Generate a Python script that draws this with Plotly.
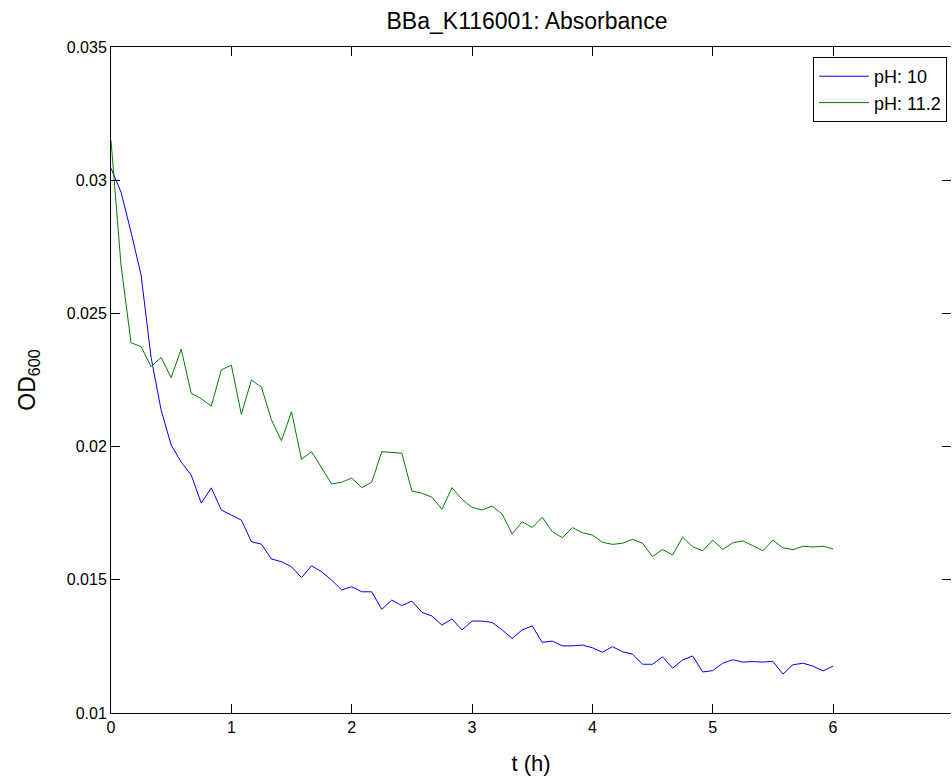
import plotly.graph_objects as go

# time points every 5 minutes from 0 to 6 h
t_hours = [i / 12 for i in range(73)]

od_ph10 = [
    0.03045, 0.02955, 0.02805, 0.02644, 0.02334, 0.02137, 0.02006, 0.01942, 0.01893, 0.01788,
    0.01845, 0.01762, 0.01743, 0.01724, 0.01643, 0.01634, 0.01578, 0.01568, 0.01549, 0.01508,
    0.01553, 0.01530, 0.01499, 0.01462, 0.01474, 0.01455, 0.01455, 0.01389, 0.01424, 0.01403,
    0.01420, 0.01378, 0.01364, 0.01330, 0.01353, 0.01312, 0.01345, 0.01345, 0.01340, 0.01312,
    0.01280, 0.01312, 0.01327, 0.01265, 0.01270, 0.01252, 0.01252, 0.01255, 0.01245, 0.01228,
    0.01249, 0.01230, 0.01221, 0.01183, 0.01183, 0.01211, 0.01168, 0.01199, 0.01214, 0.01154,
    0.01159, 0.01187, 0.01200, 0.01191, 0.01193, 0.01191, 0.01194, 0.01146, 0.01181, 0.01187,
    0.01176, 0.01158, 0.01176,
]

od_ph112 = [
    0.03150, 0.02680, 0.02390, 0.02375, 0.02300, 0.02335, 0.02259, 0.02366, 0.02200, 0.02180,
    0.02152, 0.02288, 0.02306, 0.02121, 0.02250, 0.02223, 0.02100, 0.02022, 0.02131, 0.01952,
    0.01981, 0.01922, 0.01860, 0.01866, 0.01882, 0.01846, 0.01866, 0.01981, 0.01979, 0.01975,
    0.01833, 0.01825, 0.01810, 0.01765, 0.01846, 0.01802, 0.01772, 0.01762, 0.01777, 0.01747,
    0.01672, 0.01718, 0.01696, 0.01735, 0.01681, 0.01658, 0.01696, 0.01677, 0.01668, 0.01641,
    0.01633, 0.01637, 0.01652, 0.01637, 0.01587, 0.01614, 0.01593, 0.01660, 0.01624, 0.01609,
    0.01649, 0.01614, 0.01639, 0.01646, 0.01628, 0.01609, 0.01649, 0.01620, 0.01613, 0.01626,
    0.01623, 0.01626, 0.01616,
]

series_names = ["pH: 10", "pH: 11.2"]
x_tick_vals = [0, 1, 2, 3, 4, 5, 6, 7]
y_tick_vals = [0.01, 0.015, 0.02, 0.025, 0.03, 0.035]
y_tick_text = ["0.01", "0.015", "0.02", "0.025", "0.03", "0.035"]
x_range = [0, 6.98]
y_range = [0.01, 0.035]

FONT = "Liberation Sans, Arial, Helvetica, sans-serif"

fig = go.Figure()
fig.add_trace(go.Scatter(x=t_hours, y=od_ph10, mode="lines", name=series_names[0],
                         line=dict(color="#0000ff", width=1)))
fig.add_trace(go.Scatter(x=t_hours, y=od_ph112, mode="lines", name=series_names[1],
                         line=dict(color="#008000", width=1)))
# carrier for the right-hand tick marks
fig.add_trace(go.Scatter(x=[None], y=[None], yaxis="y2", showlegend=False,
                         hoverinfo="skip", mode="lines"))

tick_font = dict(family=FONT, size=16, color="black")

fig.update_layout(
    width=952, height=778,
    margin=dict(l=111, r=1, t=47, b=65),
    paper_bgcolor="white", plot_bgcolor="white",
    font=dict(family=FONT, color="black"),
    title=dict(text="BBa_K116001: Absorbance", x=527 / 952, xanchor="center",
               y=1 - 21 / 778, yanchor="middle",
               font=dict(family=FONT, size=23, color="black")),
    xaxis=dict(range=x_range, tickvals=x_tick_vals, showline=True, linecolor="black",
               linewidth=1, mirror="ticks", ticks="inside", ticklen=9, tickcolor="black",
               showgrid=False, zeroline=False, tickfont=tick_font,
               title=dict(text="t (h)", font=dict(family=FONT, size=22), standoff=20)),
    yaxis=dict(range=y_range, tickvals=y_tick_vals, ticktext=y_tick_text, showline=True,
               linecolor="black", linewidth=1, mirror=False, ticks="inside", ticklen=9,
               tickcolor="black", showgrid=False, zeroline=False, tickfont=tick_font,
               title=dict(text="OD<sub>600</sub>",
                          font=dict(family=FONT, size=23), standoff=24)),
    yaxis2=dict(range=y_range, tickvals=y_tick_vals, overlaying="y", side="right",
                showline=False, ticks="inside", ticklen=9, tickcolor="black",
                showticklabels=False, showgrid=False, zeroline=False),
    legend=dict(x=(947 - 111) / 840, y=1 - 10 / 666, xanchor="right", yanchor="top",
                bgcolor="white", bordercolor="black", borderwidth=1, itemwidth=50,
                font=dict(family=FONT, size=18, color="black"), tracegroupgap=0),
    showlegend=True,
)

fig.write_html("out.html")
